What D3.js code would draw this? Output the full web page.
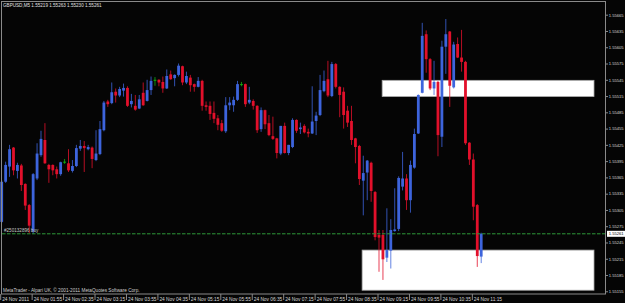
<!DOCTYPE html>
<html>
<head>
<meta charset="utf-8">
<script src="https://cdn.jsdelivr.net/npm/d3@7"></script>
<style>
html, body { margin: 0; padding: 0; background: #050505; }
svg { display: block; }
text { font-family: "Liberation Sans", Arial, sans-serif; }
</style>
</head>
<body>
<svg id="chart" width="625" height="303"></svg>
<script>
// GBPUSD M5 chart, 24 Nov 2011, bars from 01:15 to 11:25
const symbolTitle = "GBPUSD,M5 1.55219 1.55263 1.55230 1.55261";
const copyright = "MetaTrader - Alpari UK, \u00a9 2001-2011 MetaQuotes Software Corp.";
const orderLabel = "#250132896 buy";

const opens = [
  1.55283, 1.55357, 1.55385, 1.55420, 1.55377, 1.55387, 1.55353, 1.55314, 1.55265, 1.55363,
  1.55406, 1.55434, 1.55388, 1.55388, 1.55380, 1.55371, 1.55394, 1.55391, 1.55377, 1.55386,
  1.55418, 1.55423, 1.55417, 1.55420, 1.55397, 1.55408, 1.55452, 1.55505, 1.55502, 1.55523,
  1.55516, 1.55525, 1.55530, 1.55500, 1.55497, 1.55492, 1.55521, 1.55506, 1.55526, 1.55545,
  1.55545, 1.55541, 1.55529, 1.55555, 1.55548, 1.55554, 1.55570, 1.55540, 1.55549, 1.55537,
  1.55532, 1.55543, 1.55498, 1.55497, 1.55484, 1.55474, 1.55465, 1.55450, 1.55498, 1.55498,
  1.55508, 1.55537, 1.55537, 1.55503, 1.55506, 1.55497, 1.55454, 1.55489, 1.55465, 1.55441,
  1.55437, 1.55409, 1.55460, 1.55410, 1.55421, 1.55471, 1.55454, 1.55460, 1.55449, 1.55446,
  1.55469, 1.55480, 1.55524, 1.55546, 1.55515, 1.55574, 1.55532, 1.55523, 1.55488, 1.55469,
  1.55437, 1.55423, 1.55359, 1.55374, 1.55392, 1.55338, 1.55259, 1.55259, 1.55217, 1.55230,
  1.55266, 1.55270, 1.55348, 1.55363, 1.55323, 1.55383, 1.55446, 1.55521, 1.55629, 1.55583,
  1.55529, 1.55541, 1.55440, 1.55606, 1.55634, 1.55531, 1.55611, 1.55586, 1.55578, 1.55429,
  1.55398, 1.55314, 1.55219
];
const highs = [
  1.55360, 1.55394, 1.55425, 1.55421, 1.55392, 1.55390, 1.55354, 1.55316, 1.55373, 1.55428,
  1.55451, 1.55465, 1.55390, 1.55389, 1.55385, 1.55394, 1.55399, 1.55417, 1.55397, 1.55425,
  1.55434, 1.55432, 1.55425, 1.55422, 1.55452, 1.55469, 1.55506, 1.55508, 1.55540, 1.55529,
  1.55532, 1.55538, 1.55533, 1.55519, 1.55517, 1.55517, 1.55540, 1.55545, 1.55551, 1.55550,
  1.55546, 1.55551, 1.55564, 1.55562, 1.55555, 1.55575, 1.55571, 1.55560, 1.55554, 1.55538,
  1.55550, 1.55545, 1.55505, 1.55505, 1.55505, 1.55480, 1.55471, 1.55513, 1.55513, 1.55514,
  1.55543, 1.55541, 1.55538, 1.55532, 1.55509, 1.55498, 1.55494, 1.55490, 1.55480, 1.55477,
  1.55438, 1.55460, 1.55466, 1.55425, 1.55474, 1.55472, 1.55466, 1.55463, 1.55455, 1.55533,
  1.55486, 1.55554, 1.55562, 1.55580, 1.55578, 1.55576, 1.55533, 1.55531, 1.55497, 1.55497,
  1.55438, 1.55425, 1.55405, 1.55397, 1.55394, 1.55340, 1.55268, 1.55268, 1.55308, 1.55288,
  1.55345, 1.55367, 1.55412, 1.55371, 1.55396, 1.55455, 1.55518, 1.55650, 1.55636, 1.55585,
  1.55580, 1.55543, 1.55617, 1.55657, 1.55635, 1.55615, 1.55623, 1.55637, 1.55580, 1.55430,
  1.55409, 1.55316, 1.55263
];
const lows = [
  1.55281, 1.55355, 1.55366, 1.55369, 1.55363, 1.55340, 1.55305, 1.55262, 1.55261, 1.55360,
  1.55403, 1.55390, 1.55355, 1.55369, 1.55363, 1.55368, 1.55390, 1.55375, 1.55374, 1.55384,
  1.55414, 1.55375, 1.55415, 1.55382, 1.55395, 1.55406, 1.55450, 1.55495, 1.55500, 1.55503,
  1.55513, 1.55514, 1.55495, 1.55494, 1.55488, 1.55491, 1.55497, 1.55505, 1.55517, 1.55534,
  1.55533, 1.55521, 1.55528, 1.55545, 1.55533, 1.55551, 1.55535, 1.55537, 1.55523, 1.55523,
  1.55531, 1.55488, 1.55488, 1.55471, 1.55465, 1.55452, 1.55449, 1.55447, 1.55489, 1.55486,
  1.55506, 1.55533, 1.55495, 1.55500, 1.55490, 1.55447, 1.55449, 1.55454, 1.55441, 1.55434,
  1.55400, 1.55406, 1.55409, 1.55406, 1.55419, 1.55447, 1.55445, 1.55446, 1.55439, 1.55445,
  1.55443, 1.55478, 1.55522, 1.55513, 1.55513, 1.55529, 1.55476, 1.55455, 1.55458, 1.55425,
  1.55391, 1.55351, 1.55295, 1.55323, 1.55320, 1.55249, 1.55191, 1.55176, 1.55209, 1.55197,
  1.55265, 1.55266, 1.55341, 1.55305, 1.55300, 1.55381, 1.55445, 1.55520, 1.55558, 1.55526,
  1.55517, 1.55404, 1.55421, 1.55556, 1.55495, 1.55529, 1.55585, 1.55560, 1.55425, 1.55388,
  1.55286, 1.55200, 1.55207
];
const closes = [
  1.55357, 1.55388, 1.55417, 1.55378, 1.55388, 1.55351, 1.55313, 1.55276, 1.55371, 1.55409,
  1.55436, 1.55391, 1.55380, 1.55378, 1.55371, 1.55393, 1.55394, 1.55378, 1.55386, 1.55419,
  1.55423, 1.55419, 1.55421, 1.55399, 1.55409, 1.55454, 1.55503, 1.55500, 1.55522, 1.55516,
  1.55528, 1.55530, 1.55497, 1.55506, 1.55490, 1.55509, 1.55498, 1.55526, 1.55543, 1.55545,
  1.55540, 1.55529, 1.55552, 1.55546, 1.55554, 1.55571, 1.55540, 1.55552, 1.55535, 1.55532,
  1.55543, 1.55497, 1.55495, 1.55482, 1.55473, 1.55462, 1.55451, 1.55498, 1.55503, 1.55508,
  1.55537, 1.55537, 1.55500, 1.55508, 1.55497, 1.55452, 1.55489, 1.55463, 1.55443, 1.55436,
  1.55410, 1.55460, 1.55410, 1.55425, 1.55471, 1.55451, 1.55457, 1.55448, 1.55446, 1.55468,
  1.55479, 1.55526, 1.55543, 1.55516, 1.55574, 1.55532, 1.55517, 1.55480, 1.55466, 1.55434,
  1.55421, 1.55362, 1.55373, 1.55396, 1.55340, 1.55255, 1.55254, 1.55214, 1.55231, 1.55268,
  1.55269, 1.55364, 1.55363, 1.55323, 1.55388, 1.55445, 1.55517, 1.55626, 1.55583, 1.55529,
  1.55541, 1.55443, 1.55606, 1.55629, 1.55534, 1.55610, 1.55586, 1.55578, 1.55428, 1.55398,
  1.55311, 1.55220, 1.55261
];

// time axis: bar index of each label and the label text
const timeTickBars = [0, 8, 16, 24, 32, 40, 48, 56, 64, 72, 80, 88, 96, 104, 112, 120];
const timeTickLabels = [
  "24 Nov 2011", "24 Nov 01:55", "24 Nov 02:35", "24 Nov 03:15", "24 Nov 03:55",
  "24 Nov 04:35", "24 Nov 05:15", "24 Nov 05:55", "24 Nov 06:35", "24 Nov 07:15",
  "24 Nov 07:55", "24 Nov 08:35", "24 Nov 09:15", "24 Nov 09:55", "24 Nov 10:35",
  "24 Nov 11:15"
];
const priceTicks = [
  1.55665, 1.55635, 1.55605, 1.55575, 1.55545, 1.55515, 1.55485, 1.55455, 1.55425,
  1.55395, 1.55365, 1.55335, 1.55305, 1.55275, 1.55245, 1.55215, 1.55185, 1.55155
];
const lastPrice = 1.55261;
const orderPrice = 1.55261;

// the two white rectangles: bar range and price range
const zoneBars = [[96.8, 150.7], [91.7, 150.7]];
const zonePrices = [[1.55544, 1.55514], [1.55231, 1.55157]];

const svg = d3.select("#chart");
const plotRight = 605.5, plotBottom = 294;

const x = d3.scaleLinear().domain([0, 122]).range([1.7, 481.2]);
const y = d3.scaleLinear().domain([1.55155, 1.55665]).range([291.3, 14.7]);

const bars = d3.range(opens.length).map(i => ({
  i, o: opens[i], h: highs[i], l: lows[i], c: closes[i]
}));

const BULL = "#3d64dc", BEAR = "#e2102b", DOJI = "#12b012";
const colorOf = d => d.c > d.o ? BULL : (d.c < d.o ? BEAR : DOJI);

// rectangles behind the candles
svg.append("g").selectAll("rect")
  .data(zoneBars)
  .join("rect")
  .attr("x", d => x(d[0]))
  .attr("y", (d, k) => y(zonePrices[k][0]))
  .attr("width", d => x(d[1]) - x(d[0]))
  .attr("height", (d, k) => y(zonePrices[k][1]) - y(zonePrices[k][0]))
  .attr("fill", "#ffffff")
  .attr("stroke", "#a8a8a8")
  .attr("stroke-width", 0.8);

// wicks
svg.append("g").selectAll("line")
  .data(bars)
  .join("line")
  .attr("x1", d => x(d.i)).attr("x2", d => x(d.i))
  .attr("y1", d => y(d.h)).attr("y2", d => y(d.l))
  .attr("stroke", colorOf)
  .attr("stroke-opacity", 0.8)
  .attr("stroke-width", 1);

// bodies
svg.append("g").selectAll("rect")
  .data(bars)
  .join("rect")
  .attr("x", d => x(d.i) - 1.4)
  .attr("width", 2.8)
  .attr("y", d => y(Math.max(d.o, d.c)))
  .attr("height", d => Math.max(1, Math.abs(y(d.o) - y(d.c))))
  .attr("fill", colorOf);

// order line
svg.append("line")
  .attr("x1", 2).attr("x2", plotRight)
  .attr("y1", y(orderPrice)).attr("y2", y(orderPrice))
  .attr("stroke", "#2e9a3a")
  .attr("stroke-width", 1)
  .attr("stroke-dasharray", "3.5,1.5");

svg.append("text")
  .attr("x", 4).attr("y", y(orderPrice) - 1.4)
  .attr("font-size", 4.6)
  .attr("fill", "#c8c8c8")
  .text(orderLabel);

// frame
svg.append("rect")
  .attr("x", 1.5).attr("y", 1.5)
  .attr("width", plotRight - 1.5).attr("height", plotBottom - 1.5)
  .attr("fill", "none")
  .attr("stroke", "#8a8a8a")
  .attr("stroke-width", 1);

// price axis
const yAxis = svg.append("g")
  .attr("transform", `translate(${plotRight},0)`)
  .call(d3.axisRight(y).tickValues(priceTicks).tickSize(2.5).tickSizeOuter(0).tickPadding(0.8)
    .tickFormat(d3.format(".5f")));
yAxis.select(".domain").remove();
yAxis.selectAll(".tick line").attr("stroke", "#8a8a8a");
yAxis.selectAll(".tick text")
  .attr("fill", "#d8d8d8")
  .attr("font-size", 4.1)
  .attr("font-family", "Liberation Sans, Arial, sans-serif");

// current price box
svg.append("rect")
  .attr("x", 607).attr("y", y(lastPrice) - 3)
  .attr("width", 18).attr("height", 6)
  .attr("fill", "#ffffff");
svg.append("text")
  .attr("x", 608.8).attr("y", y(lastPrice) + 1.5)
  .attr("font-size", 4.1)
  .attr("fill", "#000000")
  .text(d3.format(".5f")(lastPrice));

// time axis
const xAxis = svg.append("g")
  .attr("transform", `translate(-1.5,${plotBottom})`)
  .call(d3.axisBottom(x).tickValues(timeTickBars).tickSize(6).tickSizeOuter(0)
    .tickFormat((d, k) => timeTickLabels[k]));
xAxis.select(".domain").remove();
xAxis.selectAll(".tick line").attr("stroke", "#8a8a8a");
xAxis.selectAll(".tick text")
  .attr("text-anchor", "start")
  .attr("x", 1.5)
  .attr("y", 7)
  .attr("dy", 0)
  .attr("fill", "#d8d8d8")
  .attr("font-size", 4.8)
  .attr("font-family", "Liberation Sans, Arial, sans-serif");

// header and footer text
svg.append("text")
  .attr("x", 3).attr("y", 7)
  .attr("font-size", 4.6)
  .attr("fill", "#e0e0e0")
  .text(symbolTitle);

svg.append("text")
  .attr("x", 3).attr("y", 291.6)
  .attr("font-size", 4.7)
  .attr("fill", "#d0d0d0")
  .text(copyright);
</script>
</body>
</html>
